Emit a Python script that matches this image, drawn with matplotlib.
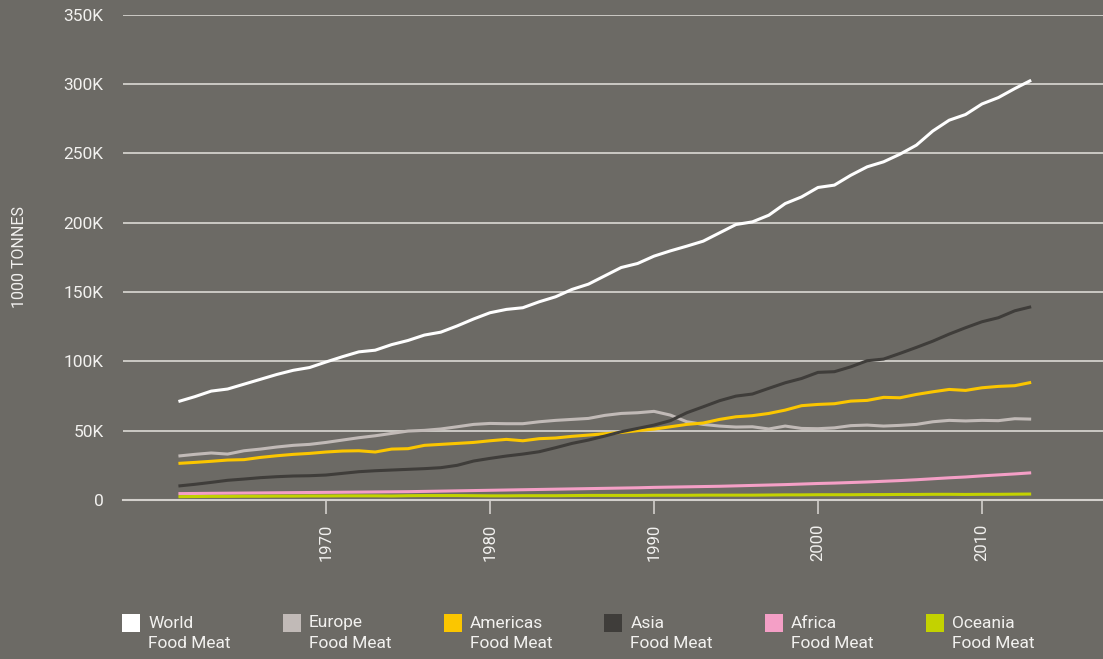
import matplotlib
matplotlib.use("Agg")
import matplotlib.pyplot as plt
from matplotlib.patches import Rectangle
from matplotlib.ticker import FuncFormatter

plt.rcParams['font.family'] = ['Roboto', 'DejaVu Sans']

years = list(range(1961, 2014))

world = [71.0, 74.5, 78.5, 80.0, 83.5, 87.0, 90.5, 93.5, 95.5, 99.5,
         103.3, 106.8, 108.0, 112.0, 115.0, 118.9, 121.0, 125.5, 130.5, 135.0,
         137.4, 138.6, 142.9, 146.5, 151.8, 155.6, 161.6, 167.6, 170.5, 175.8,
         179.6, 183.0, 186.6, 192.6, 198.6, 200.5, 205.3, 213.7, 218.5, 225.3,
         227.0, 234.1, 240.2, 243.8, 249.3, 255.8, 266.0, 273.8, 277.9, 285.5,
         290.1, 296.6, 302.6]
europe = [31.7, 32.9, 33.9, 33.1, 35.5, 36.7, 38.2, 39.4, 40.1, 41.5,
          43.2, 44.9, 46.3, 48.0, 49.7, 50.2, 51.2, 52.8, 54.5, 55.2,
          55.0, 55.0, 56.4, 57.4, 58.1, 58.8, 61.0, 62.4, 62.9, 63.9,
          61.2, 56.4, 54.5, 53.3, 52.6, 52.8, 51.2, 53.3, 51.6, 51.4,
          52.0, 53.6, 54.0, 53.3, 53.8, 54.5, 56.4, 57.4, 57.0, 57.4,
          57.2, 58.6, 58.3]
americas = [26.4, 27.1, 27.9, 28.8, 29.1, 30.7, 31.9, 32.9, 33.6, 34.6,
            35.3, 35.5, 34.6, 36.7, 37.0, 39.4, 40.1, 40.8, 41.5, 42.7,
            43.7, 42.7, 44.2, 44.7, 45.9, 46.8, 47.8, 48.7, 50.0, 51.1,
            52.8, 54.5, 55.5, 58.1, 60.0, 60.8, 62.4, 64.8, 68.0, 68.9,
            69.4, 71.3, 71.8, 74.0, 73.7, 76.1, 78.0, 79.7, 79.0, 80.9,
            81.9, 82.4, 84.8]
asia = [10.1, 11.3, 12.7, 14.2, 15.1, 16.1, 16.8, 17.3, 17.5, 18.0,
        19.2, 20.4, 21.1, 21.6, 22.1, 22.6, 23.3, 25.0, 28.1, 30.0,
        31.7, 33.1, 34.8, 37.7, 40.8, 43.2, 46.1, 49.2, 51.6, 54.0,
        57.2, 62.9, 67.2, 71.6, 74.9, 76.4, 80.5, 84.5, 87.6, 92.0,
        92.5, 96.0, 100.4, 101.6, 105.7, 110.0, 114.5, 119.6, 124.2, 128.5,
        131.4, 136.4, 139.3]
africa = [4.6, 4.7, 4.8, 4.9, 5.0, 5.1, 5.2, 5.3, 5.4, 5.5,
          5.6, 5.7, 5.8, 5.9, 6.0, 6.2, 6.4, 6.6, 6.8, 7.0,
          7.2, 7.4, 7.6, 7.8, 8.0, 8.2, 8.4, 8.6, 8.8, 9.1,
          9.3, 9.5, 9.7, 9.9, 10.2, 10.5, 10.8, 11.1, 11.5, 11.9,
          12.2, 12.6, 13.0, 13.5, 14.0, 14.6, 15.3, 16.0, 16.6, 17.4,
          18.1, 18.8, 19.6]
oceania = [2.4, 2.5, 2.6, 2.6, 2.7, 2.7, 2.8, 2.8, 2.9, 2.9,
           3.0, 3.0, 3.0, 2.9, 3.1, 3.2, 3.2, 3.2, 3.1, 3.0,
           3.0, 3.1, 3.1, 3.1, 3.2, 3.3, 3.3, 3.3, 3.3, 3.4,
           3.4, 3.4, 3.5, 3.5, 3.5, 3.5, 3.6, 3.7, 3.7, 3.8,
           3.8, 3.8, 3.9, 3.9, 4.0, 4.0, 4.1, 4.1, 4.0, 4.1,
           4.1, 4.2, 4.3]

series_names = ["World", "Europe", "Americas", "Asia", "Africa", "Oceania"]
series_values = [world, europe, americas, asia, africa, oceania]
series_colors = ["#ffffff", "#c1bab7", "#fbc600", "#3f3d3a", "#f49fc6", "#c3d200"]
legend_sub = "Food Meat"

y_ticks = [0, 50, 100, 150, 200, 250, 300, 350]
x_ticks = [1970, 1980, 1990, 2000, 2010]
y_label = "1000 TONNES"

bg = "#6c6a65"
grid_c = "#d3d0cc"
text_c = "#f2f1ef"

W, H = 1103, 659
fig = plt.figure(figsize=(W / 100, H / 100), dpi=100, facecolor=bg)
ax = fig.add_axes([123 / W, 1 - 500 / H, 1 - 123 / W, (500 - 14.5) / H])
ax.set_facecolor(bg)

for name, vals, col in zip(series_names, series_values, series_colors):
    ax.plot(years, vals, color=col, lw=2.2, solid_capstyle='butt', zorder=3)

ax.set_xlim(1957.62, 2017.38)
ax.set_ylim(0, 350)
ax.set_yticks(y_ticks)
ax.yaxis.set_major_formatter(FuncFormatter(lambda v, p: "0" if v == 0 else f"{int(v)}K"))
ax.set_xticks(x_ticks)
ax.set_xticklabels([str(x) for x in x_ticks], rotation=90)

ax.grid(axis='y', color=grid_c, lw=1.3, zorder=1)
ax.grid(axis='x', visible=False)
for s in ['top', 'right', 'left']:
    ax.spines[s].set_visible(False)
ax.spines['bottom'].set_color(grid_c)
ax.spines['bottom'].set_linewidth(1.5)
ax.spines['bottom'].set_zorder(2)

ax.tick_params(axis='y', length=0, pad=14, labelcolor=text_c, labelsize=12.5)
ax.tick_params(axis='x', length=10, width=1.2, color=grid_c, pad=7,
               labelcolor=text_c, labelsize=12)

fig.text(20 / W, 1 - 257 / H, y_label, rotation=90, color=text_c,
         fontsize=11.5, ha='center', va='center')

# legend
x0 = 122
step = 160.8
for i, (name, col) in enumerate(zip(series_names, series_colors)):
    lx = x0 + i * step
    fig.add_artist(Rectangle((lx / W, 1 - 632 / H), 18 / W, 18 / H,
                             transform=fig.transFigure, facecolor=col,
                             edgecolor='none'))
    fig.text((lx + 26) / W, 1 - 623 / H, name, color=text_c, fontsize=12.5,
             ha='left', va='center')
    fig.text((lx + 26) / W, 1 - 644 / H, legend_sub, color=text_c, fontsize=12.5,
             ha='left', va='center')

fig.savefig("out.png", dpi=100, facecolor=bg)
